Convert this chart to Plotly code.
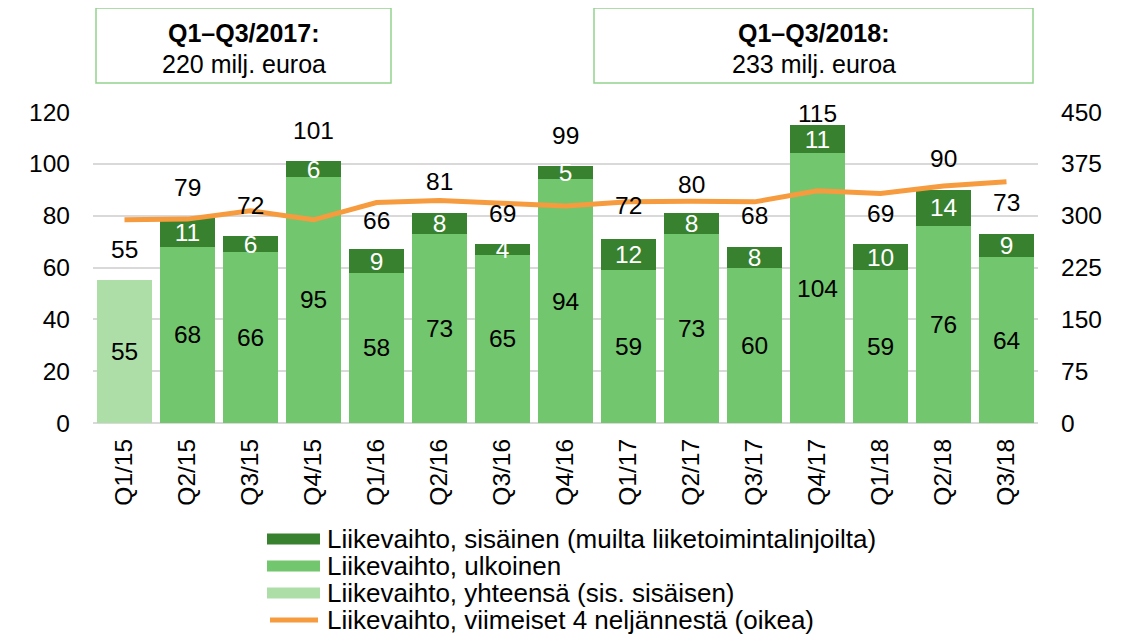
import plotly.graph_objects as go

categories = ["Q1/15", "Q2/15", "Q3/15", "Q4/15", "Q1/16", "Q2/16", "Q3/16",
              "Q4/16", "Q1/17", "Q2/17", "Q3/17", "Q4/17", "Q1/18", "Q2/18", "Q3/18"]
total_only = [55, None, None, None, None, None, None, None, None, None, None, None, None, None, None]
external = [None, 68, 66, 95, 58, 73, 65, 94, 59, 73, 60, 104, 59, 76, 64]
internal = [None, 11, 6, 6, 9, 8, 4, 5, 12, 8, 8, 11, 10, 14, 9]
totals = [55, 79, 72, 101, 66, 81, 69, 99, 72, 80, 68, 115, 69, 90, 73]
rolling4 = [294, 295, 307, 294, 319, 322, 318, 314, 320, 321, 320, 336, 332, 343, 349]

left_ticks = [0, 20, 40, 60, 80, 100, 120]
right_ticks = [0, 75, 150, 225, 300, 375, 450]

box_titles = ["Q1–Q3/2017:", "Q1–Q3/2018:"]
box_values = ["220 milj. euroa", "233 milj. euroa"]

legend_labels = [
    "Liikevaihto, sisäinen (muilta liiketoimintalinjoilta)",
    "Liikevaihto, ulkoinen",
    "Liikevaihto, yhteensä (sis. sisäisen)",
    "Liikevaihto, viimeiset 4 neljännestä (oikea)",
]

C_DARK = "#38812F"
C_MID = "#72C66E"
C_LIGHT = "#ADDEA7"
C_ORANGE = "#F79B3F"
C_GRID = "#D9D9D9"
FONT = "Liberation Sans, Arial, sans-serif"
FS = 24.5
FS_BOX = 25
FS_LEG = 26

OFF = 8  # page body margin
W, H = 1136 - OFF, 636 - OFF
# plot area in screenshot pixels
SPL, SPR, SPT, SPB = 93, 1038, 112, 423
PL, PR, PT, PB = SPL - OFF, SPR - OFF, SPT - OFF, SPB - OFF


def px_x(px):
    return (px - SPL) / (SPR - SPL)


def px_y(py):
    return (SPB - py) / (SPB - SPT)


fig = go.Figure()

common_txt = dict(textposition="inside", insidetextanchor="middle",
                  constraintext="none", textangle=0)

fig.add_trace(go.Bar(
    x=categories, y=total_only, name=legend_labels[2], marker_color=C_LIGHT,
    marker_line_width=0,
    text=[str(v) if v is not None else "" for v in total_only],
    textfont=dict(color="black", size=FS, family=FONT), showlegend=False, **common_txt,
))
fig.add_trace(go.Bar(
    x=categories, y=external, name=legend_labels[1], marker_color=C_MID,
    marker_line_width=0,
    text=[str(v) if v is not None else "" for v in external],
    textfont=dict(color="black", size=FS, family=FONT), showlegend=False, **common_txt,
))
fig.add_trace(go.Bar(
    x=categories, y=internal, name=legend_labels[0], marker_color=C_DARK,
    marker_line_width=0,
    text=[str(v) if v is not None else "" for v in internal],
    textfont=dict(color="white", size=FS, family=FONT), showlegend=False, **common_txt,
))
fig.add_trace(go.Scatter(
    x=categories, y=rolling4, name=legend_labels[3], yaxis="y2", mode="lines",
    line=dict(color=C_ORANGE, width=5), showlegend=False,
))

annotations = []
# total labels above the bars
for c, t in zip(categories, totals):
    annotations.append(dict(
        x=c, y=min(t + 12, 119.6), xref="x", yref="y", text=str(t), showarrow=False,
        font=dict(size=FS, color="black", family=FONT), xanchor="center", yanchor="middle",
    ))

shapes = []
# summary boxes
boxes = [(96, 391), (594, 1033)]
for (bx0, bx1), t1, t2 in zip(boxes, box_titles, box_values):
    shapes.append(dict(type="rect", xref="paper", yref="paper",
                       x0=px_x(bx0), x1=px_x(bx1), y0=px_y(83), y1=px_y(8),
                       line=dict(color="#92D38F", width=1.5), fillcolor="white"))
    cx = px_x((bx0 + bx1) / 2)
    annotations.append(dict(x=cx, y=px_y(33), xref="paper", yref="paper", text="<b>" + t1 + "</b>",
                            showarrow=False, font=dict(size=FS_BOX, color="black", family=FONT),
                            xanchor="center", yanchor="middle"))
    annotations.append(dict(x=cx, y=px_y(64), xref="paper", yref="paper", text=t2,
                            showarrow=False, font=dict(size=FS_BOX, color="black", family=FONT),
                            xanchor="center", yanchor="middle"))

# custom legend
legend_rows = [539, 566, 593, 620]
legend_colors = [C_DARK, C_MID, C_LIGHT]
for i, (ry, lab) in enumerate(zip(legend_rows, legend_labels)):
    if i < 3:
        shapes.append(dict(type="rect", xref="paper", yref="paper",
                           x0=px_x(267), x1=px_x(320), y0=px_y(ry + 5.5), y1=px_y(ry - 5.5),
                           line=dict(width=0), fillcolor=legend_colors[i]))
    else:
        shapes.append(dict(type="line", xref="paper", yref="paper",
                           x0=px_x(270), x1=px_x(318), y0=px_y(ry), y1=px_y(ry),
                           line=dict(color=C_ORANGE, width=5)))
    annotations.append(dict(x=px_x(325), y=px_y(ry), xref="paper", yref="paper", text=lab,
                            showarrow=False, font=dict(size=FS_LEG, color="black", family=FONT),
                            xanchor="left", yanchor="middle"))

fig.update_layout(
    width=W, height=H,
    margin=dict(l=PL, r=W - PR, t=PT, b=H - PB, autoexpand=False),
    barmode="stack", bargap=0.14,
    plot_bgcolor="white", paper_bgcolor="white",
    font=dict(family=FONT, size=FS, color="black"),
    showlegend=False,
    xaxis=dict(type="category", tickangle=-90, showgrid=False, ticks="",
               ticklabelstandoff=10, tickfont=dict(size=FS), automargin=False),
    yaxis=dict(range=[0, 120], tickvals=left_ticks, showgrid=True, gridcolor=C_GRID,
               gridwidth=1.5, zeroline=True, zerolinecolor=C_GRID, zerolinewidth=1.5,
               ticks="", ticklabelstandoff=22, tickfont=dict(size=FS), automargin=False),
    yaxis2=dict(range=[0, 450], tickvals=right_ticks, overlaying="y", side="right",
                showgrid=False, zeroline=False, ticks="", ticklabelstandoff=22,
                tickfont=dict(size=FS), automargin=False),
    annotations=annotations, shapes=shapes,
)

fig.write_html("out.html")
